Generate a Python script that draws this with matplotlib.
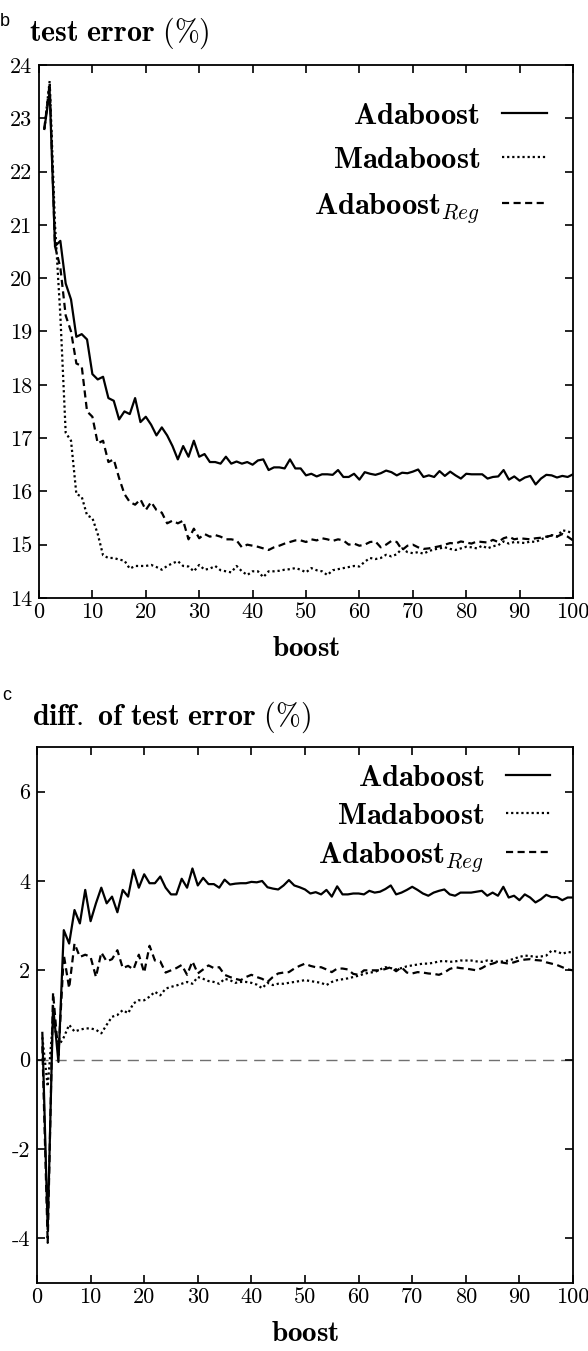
import numpy as np
import matplotlib
matplotlib.use("Agg")
import matplotlib.pyplot as plt

plt.rcParams['font.family'] = 'cmr10'
plt.rcParams['mathtext.fontset'] = 'cm'
plt.rcParams['axes.unicode_minus'] = False
plt.rcParams['axes.formatter.use_mathtext'] = False

boost = np.arange(1, 101)

# panel b: test error (%)
ada_err = [22.8, 23.5, 20.6, 20.7, 19.9, 19.6, 18.9, 18.95, 18.85, 18.2,
           18.1, 18.15, 17.75, 17.7, 17.35, 17.5, 17.45, 17.75, 17.3, 17.4,
           17.25, 17.05, 17.2, 17.05, 16.85, 16.6, 16.85, 16.65, 16.95, 16.65,
           16.7, 16.55, 16.55, 16.52, 16.65, 16.52, 16.56, 16.52, 16.55, 16.5,
           16.58, 16.6, 16.4, 16.45, 16.45, 16.43, 16.6, 16.43, 16.43, 16.3,
           16.33, 16.28, 16.32, 16.32, 16.31, 16.4, 16.27, 16.27, 16.33, 16.22,
           16.36, 16.33, 16.31, 16.34, 16.39, 16.36, 16.3, 16.35, 16.34, 16.37,
           16.41, 16.27, 16.3, 16.27, 16.38, 16.29, 16.37, 16.3, 16.24, 16.33,
           16.32, 16.32, 16.32, 16.24, 16.27, 16.28, 16.4, 16.22, 16.28, 16.2,
           16.26, 16.29, 16.13, 16.24, 16.31, 16.3, 16.26, 16.29, 16.27, 16.32]
mada_err = [22.8, 23.7, 21.0, 19.3, 17.1, 16.95, 15.95, 15.9, 15.55, 15.5,
            15.2, 14.8, 14.75, 14.75, 14.72, 14.7, 14.55, 14.6, 14.6, 14.6,
            14.62, 14.58, 14.53, 14.6, 14.65, 14.69, 14.6, 14.59, 14.5, 14.62,
            14.53, 14.55, 14.6, 14.52, 14.5, 14.48, 14.6, 14.5, 14.43, 14.5,
            14.5, 14.39, 14.5, 14.5, 14.51, 14.53, 14.54, 14.56, 14.53, 14.48,
            14.56, 14.52, 14.5, 14.43, 14.52, 14.54, 14.56, 14.58, 14.6, 14.59,
            14.68, 14.75, 14.73, 14.75, 14.81, 14.78, 14.82, 14.93, 14.86, 14.84,
            14.86, 14.83, 14.88, 14.91, 14.93, 14.95, 14.92, 14.9, 14.93, 14.96,
            14.95, 14.93, 14.98, 14.93, 14.97, 14.99, 15.06, 15.02, 15.05, 15.04,
            15.03, 15.06, 15.05, 15.1, 15.14, 15.18, 15.15, 15.27, 15.25, 15.21]
reg_err = [22.8, 23.65, 20.6, 20.2, 19.3, 19.0, 18.4, 18.35, 17.5, 17.4,
           16.9, 16.95, 16.55, 16.6, 16.25, 15.95, 15.8, 15.75, 15.85, 15.65,
           15.8, 15.65, 15.6, 15.4, 15.45, 15.4, 15.45, 15.1, 15.3, 15.12,
           15.2, 15.15, 15.18, 15.15, 15.1, 15.1, 15.08, 14.95, 15.0, 14.98,
           14.96, 14.93, 14.9, 14.95, 14.98, 15.02, 15.05, 15.08, 15.08, 15.05,
           15.1, 15.08, 15.12, 15.1, 15.07, 15.1, 15.08, 15.0, 15.02, 14.98,
           15.0, 15.05, 15.06, 14.95, 15.0, 15.07, 15.05, 14.9, 14.98, 15.0,
           14.95, 14.92, 14.93, 14.95, 14.97, 15.0, 15.03, 15.02, 15.06, 15.04,
           15.02, 15.06, 15.05, 15.04, 15.09, 15.05, 15.12, 15.15, 15.1, 15.12,
           15.11, 15.1, 15.12, 15.13, 15.15, 15.17, 15.15, 15.2, 15.15, 15.08]

# panel c: diff. of test error (%)
ada_diff = [0.6, -3.8, 1.2, -0.05, 2.9, 2.6, 3.35, 3.05, 3.8, 3.1,
            3.5, 3.85, 3.5, 3.65, 3.3, 3.8, 3.65, 4.25, 3.85, 4.15,
            3.95, 3.95, 4.1, 3.85, 3.7, 3.7, 4.05, 3.85, 4.28, 3.9,
            4.07, 3.93, 3.93, 3.85, 4.03, 3.92, 3.94, 3.95, 3.95, 3.98,
            3.97, 4.0, 3.86, 3.83, 3.81, 3.9, 4.02, 3.9, 3.86, 3.81,
            3.72, 3.75, 3.7, 3.8, 3.65, 3.88, 3.7, 3.7, 3.72, 3.72,
            3.7, 3.78, 3.74, 3.76, 3.82, 3.9, 3.7, 3.74, 3.8, 3.87,
            3.8, 3.72, 3.67, 3.74, 3.78, 3.81, 3.7, 3.67, 3.74, 3.74,
            3.74, 3.76, 3.78, 3.67, 3.74, 3.67, 3.87, 3.63, 3.67, 3.57,
            3.7, 3.63, 3.52, 3.59, 3.69, 3.64, 3.64, 3.57, 3.63, 3.63]
mada_diff = [0.5, -0.6, 0.9, 0.3, 0.5, 0.78, 0.63, 0.67, 0.7, 0.7,
             0.67, 0.59, 0.78, 0.96, 1.0, 1.11, 1.04, 1.26, 1.33, 1.33,
             1.41, 1.52, 1.44, 1.59, 1.63, 1.66, 1.7, 1.74, 1.7, 1.85,
             1.81, 1.76, 1.74, 1.7, 1.81, 1.78, 1.72, 1.74, 1.74, 1.72,
             1.68, 1.6, 1.72, 1.67, 1.7, 1.7, 1.72, 1.74, 1.76, 1.78,
             1.76, 1.74, 1.72, 1.67, 1.74, 1.78, 1.8, 1.82, 1.85, 1.88,
             1.92, 1.95, 1.96, 2.02, 2.07, 2.05, 2.02, 2.05, 2.09, 2.11,
             2.13, 2.15, 2.15, 2.17, 2.2, 2.21, 2.19, 2.2, 2.22, 2.22,
             2.22, 2.2, 2.19, 2.22, 2.21, 2.19, 2.2, 2.22, 2.26, 2.3,
             2.33, 2.32, 2.3, 2.31, 2.33, 2.44, 2.42, 2.37, 2.41, 2.4]
reg_diff = [0.3, -4.1, 1.5, 0.1, 2.35, 1.6, 2.6, 2.3, 2.35, 2.3,
            1.85, 2.4, 2.2, 2.25, 2.45, 2.05, 2.1, 2.02, 2.35, 1.95,
            2.55, 2.22, 2.2, 1.95, 2.0, 2.05, 2.12, 1.9, 2.2, 1.93,
            2.02, 2.11, 2.05, 2.07, 1.9, 1.85, 1.81, 1.78, 1.85, 1.9,
            1.85, 1.81, 1.74, 1.85, 1.93, 1.95, 1.96, 2.04, 2.1, 2.15,
            2.1, 2.07, 2.07, 2.02, 1.96, 2.04, 2.04, 2.02, 1.92, 1.9,
            2.0, 2.0, 2.0, 2.0, 2.03, 2.07, 1.98, 2.07, 1.95, 1.93,
            1.96, 1.95, 1.93, 1.92, 1.9, 1.95, 2.03, 2.07, 2.05, 2.04,
            2.02, 2.0, 2.05, 2.12, 2.15, 2.19, 2.17, 2.15, 2.18, 2.22,
            2.24, 2.25, 2.23, 2.22, 2.18, 2.15, 2.12, 2.07, 2.02, 2.0]

labels = [r'$\mathbf{Adaboost}$', r'$\mathbf{Madaboost}$', r'$\mathbf{Adaboost}_{Reg}$']
styles = ['-', (0, (1, 1.3)), (0, (3.2, 2))]

fig = plt.figure(figsize=(5.88, 13.51), dpi=100)
ax1 = fig.add_axes([0.0663, 0.5574, 0.9082, 0.3945])
ax2 = fig.add_axes([0.0629, 0.0503, 0.9116, 0.3968])


def style_axes(ax):
    for s in ax.spines.values():
        s.set_linewidth(1.3)
    ax.tick_params(direction='in', length=6, width=1.2, top=True, right=True,
                   labelsize=16, pad=5)
    ax.tick_params(axis='x', pad=3)
    ax.set_xlim(0, 100)
    ax.set_xticks(range(0, 101, 10))
    ax.set_xlabel(r'$\mathbf{boost}$', fontsize=21, labelpad=10)


for ax, series in [(ax1, [ada_err, mada_err, reg_err]),
                   (ax2, [ada_diff, mada_diff, reg_diff])]:
    for y, ls, lab in zip(series, styles, labels):
        ax.plot(boost, y, color='black', lw=1.6, linestyle=ls, label=lab)
    style_axes(ax)

ax1.legend(loc='upper right', bbox_to_anchor=(0.952, 0.93), markerfirst=False,
           frameon=False, fontsize=22, handlelength=1.5, handletextpad=0.7,
           labelspacing=0.55, borderaxespad=0, borderpad=0)
ax2.legend(loc='upper right', bbox_to_anchor=(0.957, 0.968), markerfirst=False,
           frameon=False, fontsize=22, handlelength=1.45, handletextpad=0.7,
           labelspacing=0.35, borderaxespad=0, borderpad=0)

ax1.set_ylim(14, 24)
ax1.set_yticks(range(14, 25))
ax2.set_ylim(-5, 7)
ax2.set_yticks(range(-4, 7, 2))
ax2.axhline(0, color='#707070', lw=1.0, dashes=(8, 5), zorder=0)

fig.text(0.0, 0.9905, 'b', family='Liberation Sans', fontsize=13, va='top')
fig.text(0.049, 0.9697, r'$\mathbf{test\ error}\ (\%)$', fontsize=21.5, va='baseline')
fig.text(0.004, 0.4915, 'c', family='Liberation Sans', fontsize=13, va='top')
fig.text(0.054, 0.4634, r'$\mathbf{diff.\ of\ test\ error}\ (\%)$', fontsize=21.5, va='baseline')

fig.savefig('out.png', dpi=100)
